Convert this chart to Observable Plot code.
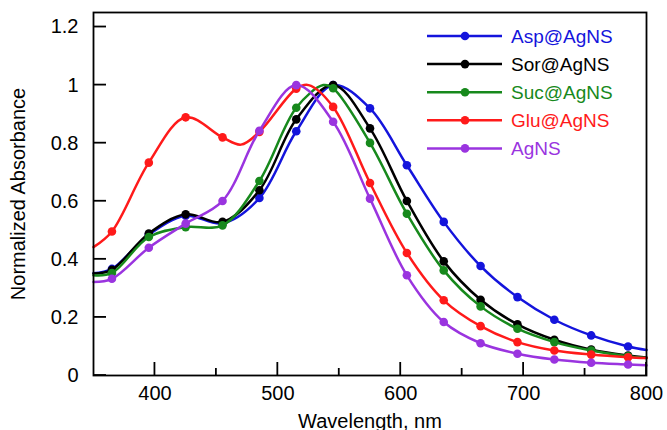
<!DOCTYPE html>
<html><head><meta charset="utf-8">
<script src="https://cdn.jsdelivr.net/npm/d3@7"></script>
<script src="https://cdn.jsdelivr.net/npm/@observablehq/plot@0.6"></script>
<style>body{margin:0;background:#fff} svg{display:block}</style>
</head><body><div id="chart"></div>
<script>
// Series names and colours (drawing order: first = bottom)
const seriesNames = ["Asp@AgNS", "Sor@AgNS", "Suc@AgNS", "Glu@AgNS", "AgNS"];
const seriesColors = ["#1414dc", "#000000", "#17891c", "#ff1a1a", "#9a34df"];

// Wavelengths (nm) that carry a marker
const markerNm = [365, 395, 425, 455, 485, 515, 545, 575, 605, 635, 665, 695, 725, 755, 785];

// Axis ticks
const xTicks = [400, 500, 600, 700, 800];
const xMinorTicks = [450, 550, 650, 750];
const yTicks = [0, 0.2, 0.4, 0.6, 0.8, 1, 1.2];

// [wavelength nm, normalized absorbance]
const aspAgNS = [[350,0.352],[365,0.367],[395,0.485],[425,0.55],[455,0.524],[485,0.611],[515,0.841],[545,1.0],[575,0.92],[605,0.724],[635,0.529],[665,0.377],[695,0.27],[725,0.192],[755,0.138],[785,0.1],[800,0.088]];
const sorAgNS = [[350,0.351],[365,0.364],[395,0.489],[425,0.555],[455,0.529],[485,0.638],[515,0.882],[545,1.0],[575,0.851],[605,0.601],[635,0.393],[665,0.261],[695,0.176],[725,0.123],[755,0.089],[785,0.069],[800,0.062]];
const sucAgNS = [[350,0.345],[365,0.353],[395,0.477],[425,0.511],[455,0.517],[485,0.67],[515,0.922],[537,1.0],[545,0.989],[575,0.801],[605,0.557],[635,0.362],[665,0.238],[695,0.161],[725,0.115],[755,0.086],[785,0.066],[800,0.06]];
const gluAgNS = [[350,0.442],[365,0.496],[395,0.733],[425,0.889],[455,0.82],[470,0.795],[485,0.839],[515,0.988],[525,1.0],[545,0.925],[575,0.663],[605,0.422],[635,0.259],[665,0.17],[695,0.115],[725,0.086],[755,0.072],[785,0.063],[800,0.06]];
const agNS = [[350,0.322],[365,0.333],[395,0.44],[425,0.523],[455,0.601],[485,0.843],[515,1.0],[545,0.874],[575,0.609],[605,0.345],[635,0.184],[665,0.111],[695,0.075],[725,0.055],[755,0.044],[785,0.038],[800,0.035]];

const seriesData = [aspAgNS, sorAgNS, sucAgNS, gluAgNS, agNS];

const font = "'Liberation Sans', Arial, Helvetica, sans-serif";

const marks = [];
seriesData.forEach((pts, i) => {
  const rows = pts.map(([nm, v]) => ({nm, v, series: seriesNames[i]}));
  marks.push(Plot.line(rows, {x: "nm", y: "v", stroke: seriesColors[i], strokeWidth: 2.5, curve: "catmull-rom"}));
  marks.push(Plot.dot(rows.filter(d => markerNm.includes(d.nm)), {x: "nm", y: "v", fill: seriesColors[i], r: 4.3}));
});

marks.push(
  Plot.frame({stroke: "#000", strokeWidth: 1.8}),
  Plot.axisX({ticks: xTicks, tickSize: 0, tickPadding: 10, tickFormat: d => String(d), fontSize: 20,
    label: "Wavelength, nm", labelAnchor: "center", labelOffset: 52, labelArrow: false}),
  Plot.axisY({ticks: yTicks, tickSize: 0, tickPadding: 15, tickFormat: d => String(d), fontSize: 20,
    label: "Normalized Absorbance", labelAnchor: "center", labelOffset: 83, labelArrow: false})
);

const plot = Plot.plot({
  width: 667, height: 430,
  marginLeft: 93, marginRight: 21, marginTop: 12, marginBottom: 55,
  style: {fontFamily: font, fontSize: "20px", background: "#fff", color: "#000", overflow: "visible"},
  x: {domain: [350, 800]},
  y: {domain: [0, 1.25]},
  marks
});
document.getElementById("chart").appendChild(plot);

const svg = d3.select(plot);
const xs = plot.scale("x"), ys = plot.scale("y");
const x0 = xs.apply(350), y0 = ys.apply(0);

// Inward ticks on the bottom and left axes, placed with Plot's own scales
const tg = svg.append("g").attr("stroke", "#000").attr("stroke-width", 1.8);
xTicks.forEach(t => tg.append("line").attr("x1", xs.apply(t)).attr("x2", xs.apply(t)).attr("y1", y0).attr("y2", y0 - 13));
xMinorTicks.forEach(t => tg.append("line").attr("x1", xs.apply(t)).attr("x2", xs.apply(t)).attr("y1", y0).attr("y2", y0 - 7));
yTicks.forEach(t => tg.append("line").attr("x1", x0).attr("x2", x0 + 13).attr("y1", ys.apply(t)).attr("y2", ys.apply(t)));

// Legend inside the plot area (top right)
const lg = svg.append("g").attr("font-family", font).attr("font-size", 19).attr("text-anchor", "start");
seriesNames.forEach((name, i) => {
  const y = 36 + i * 28.1;
  lg.append("line").attr("x1", 427).attr("x2", 502).attr("y1", y).attr("y2", y)
    .attr("stroke", seriesColors[i]).attr("stroke-width", 2.5);
  lg.append("circle").attr("cx", 465).attr("cy", y).attr("r", 4.3).attr("fill", seriesColors[i]);
  lg.append("text").attr("x", 511).attr("y", y).attr("dy", "0.35em")
    .attr("fill", seriesColors[i]).text(name);
});
</script>
</body></html>
